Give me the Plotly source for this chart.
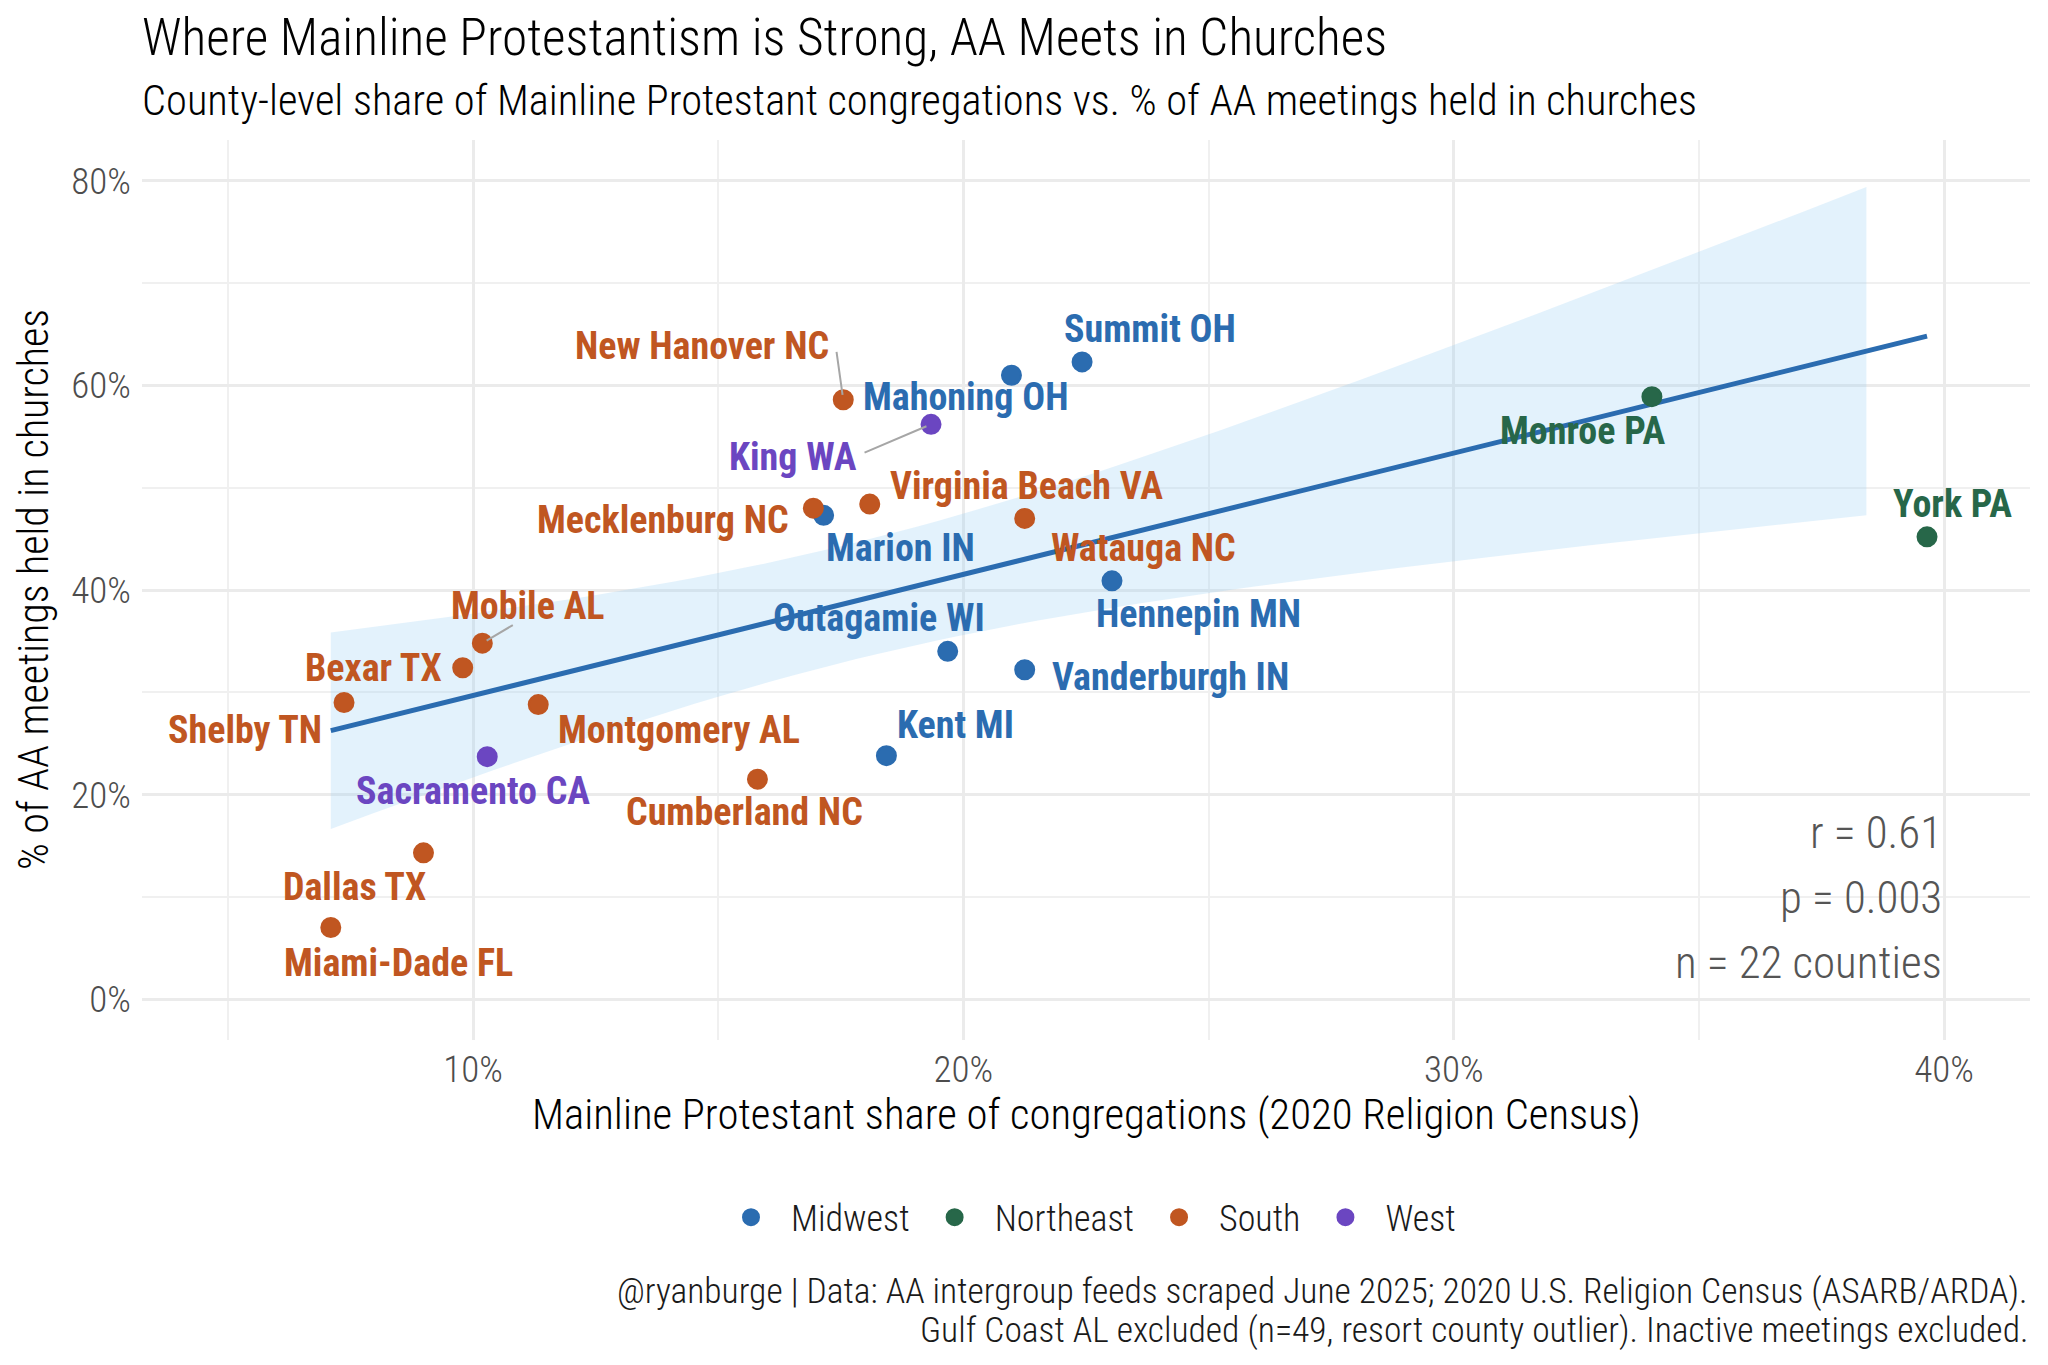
import numpy as np
import plotly.graph_objects as go

################################################################################
# Data (values in %)
################################################################################

counties = ['Summit OH', 'Mahoning OH', 'New Hanover NC', 'King WA', 'Mecklenburg NC',
            'Virginia Beach VA', 'Watauga NC', 'Marion IN', 'Hennepin MN', 'Outagamie WI',
            'Vanderburgh IN', 'Kent MI', 'Cumberland NC', 'Mobile AL', 'Bexar TX',
            'Shelby TN', 'Montgomery AL', 'Sacramento CA', 'Dallas TX', 'Miami-Dade FL',
            'Monroe PA', 'York PA']

regions = ['Midwest', 'Midwest', 'South', 'West', 'South',
           'South', 'South', 'Midwest', 'Midwest', 'Midwest',
           'Midwest', 'Midwest', 'South', 'South', 'South',
           'South', 'South', 'West', 'South', 'South',
           'Northeast', 'Northeast']

mainline_share = [22.42, 20.98, 17.55, 19.34, 16.94,
                  18.09, 21.25, 17.15, 23.03, 19.68,
                  21.25, 18.43, 15.80, 10.19, 9.79,
                  7.37, 11.33, 10.29, 8.99, 7.10,
                  34.04, 39.65]

church_pct = [62.3, 61.0, 58.6, 56.2, 48.0,
              48.4, 47.0, 47.3, 40.9, 34.0,
              32.2, 23.8, 21.5, 34.8, 32.4,
              29.0, 28.8, 23.7, 14.3, 7.0,
              58.9, 45.2]

stat_lines = ['r = 0.61', 'p = 0.003', 'n = 22 counties']

caption_lines = [
    '@ryanburge | Data: AA intergroup feeds scraped June 2025; 2020 U.S. Religion Census (ASARB/ARDA).',
    'Gulf Coast AL excluded (n=49, resort county outlier). Inactive meetings excluded.'
    ]

x_ticks = [10, 20, 30, 40]
y_ticks = [0, 20, 40, 60, 80]

################################################################################
# Styling
################################################################################

region_colors = {
    'Midwest': '#2B6CB0',
    'Northeast': '#276749',
    'South': '#C05621',
    'West': '#6B46C1'
    }

# label offsets in pixels from the point (dx right, dy up)
label_offsets = {
    'Summit OH': (68, 33),
    'Mahoning OH': (-46, -22),
    'New Hanover NC': (-141, 54),
    'King WA': (-138, -33),
    'Mecklenburg NC': (-150, -12),
    'Virginia Beach VA': (157, 18),
    'Watauga NC': (119, -30),
    'Marion IN': (77, -33),
    'Hennepin MN': (87, -33),
    'Outagamie WI': (-69, 33),
    'Vanderburgh IN': (146, -7),
    'Kent MI': (69, 31),
    'Cumberland NC': (-13, -33),
    'Mobile AL': (46, 37),
    'Bexar TX': (-89, 0),
    'Shelby TN': (-99, -27),
    'Montgomery AL': (141, -25),
    'Sacramento CA': (-14, -34),
    'Dallas TX': (-69, -34),
    'Miami-Dade FL': (68, -35),
    'Monroe PA': (-69, -34),
    'York PA': (25, 33)
    }

# leader segments: start of the segment in pixels from the point (ax, ay with y down)
segments = {
    'New Hanover NC': (-7, -50),
    'King WA': (-68, 29),
    'Mobile AL': (32, -19)
    }

FONT = 'Liberation Sans Narrow, Roboto Condensed, DejaVu Sans Condensed, sans-serif'

################################################################################
# Linear fit with 95% confidence band (like geom_smooth(method = "lm"))
################################################################################

x = np.array(mainline_share)
y = np.array(church_pct)
n = len(x)
slope, intercept = np.polyfit(x, y, 1)
resid = y - (intercept + slope * x)
s = np.sqrt(np.sum(resid ** 2) / (n - 2))
sxx = np.sum((x - x.mean()) ** 2)
t_crit = 2.086  # t(0.975, df = 20)

grid = np.linspace(x.min(), x.max(), 80)
fit = intercept + slope * grid
se = s * np.sqrt(1 / n + (grid - x.mean()) ** 2 / sxx)
upper = fit + t_crit * se
lower = fit - t_crit * se

# the y scale is limited to 0-80%, so the ribbon is cut where it leaves that range
keep = (upper <= 80) & (lower >= 0)
band_x = grid[keep]
band_up = upper[keep]
band_lo = lower[keep]

################################################################################
# Figure
################################################################################

fig = go.Figure()

fig.add_trace(go.Scatter(
    x=np.concatenate([band_x, band_x[::-1]]),
    y=np.concatenate([band_up, band_lo[::-1]]),
    fill='toself', fillcolor='rgba(144,205,244,0.25)',
    line=dict(width=0), hoverinfo='skip', showlegend=False
    ))

fig.add_trace(go.Scatter(
    x=grid, y=fit, mode='lines',
    line=dict(color='#2B6CB0', width=5),
    hoverinfo='skip', showlegend=False
    ))

for region in ['Midwest', 'Northeast', 'South', 'West']:
    idx = [i for i, r in enumerate(regions) if r == region]
    fig.add_trace(go.Scatter(
        x=[mainline_share[i] for i in idx],
        y=[church_pct[i] for i in idx],
        mode='markers', name=region,
        text=[counties[i] for i in idx],
        marker=dict(color=region_colors[region], size=19,
                    line=dict(color=region_colors[region], width=2))
        ))

# leader segments for the labels that sit away from their point
for i, county in enumerate(counties):
    if county in segments:
        ax, ay = segments[county]
        fig.add_annotation(
            x=mainline_share[i], y=church_pct[i], text=' ',
            showarrow=True, arrowhead=0, arrowwidth=2, arrowcolor='#A6A6A6',
            ax=ax, ay=ay, standoff=5, font=dict(size=1)
            )

# county labels
for i, county in enumerate(counties):
    dx, dy = label_offsets[county]
    fig.add_annotation(
        x=mainline_share[i], y=church_pct[i], text='<b>' + county + '</b>',
        showarrow=False, xshift=dx, yshift=dy,
        font=dict(family=FONT, size=38, color=region_colors[regions[i]])
        )

# stats box in the lower right
for k, line in enumerate(stat_lines[::-1]):
    fig.add_annotation(
        x=40, y=3.6, yshift=65 * k, text=line, showarrow=False,
        xanchor='right', yanchor='middle',
        font=dict(family=FONT, size=45, color='#555555', weight=300)
        )

# title and subtitle
fig.add_annotation(
    xref='paper', yref='paper', x=0, y=1, xanchor='left', yanchor='middle',
    xshift=-2, yshift=103,
    text='Where Mainline Protestantism is Strong, AA Meets in Churches', showarrow=False,
    font=dict(family=FONT, size=51.3, color='#000000', weight=300)
    )
fig.add_annotation(
    xref='paper', yref='paper', x=0, y=1, xanchor='left', yanchor='middle',
    xshift=-2, yshift=40,
    text='County-level share of Mainline Protestant congregations vs. % of AA meetings held in churches',
    showarrow=False, font=dict(family=FONT, size=42.5, color='#000000', weight=300)
    )

# axis titles
fig.add_annotation(
    xref='paper', yref='paper', x=0.5, y=0, xanchor='center', yanchor='middle', yshift=-74,
    text='Mainline Protestant share of congregations (2020 Religion Census)', showarrow=False,
    font=dict(family=FONT, size=42.8, color='#000000', weight=300)
    )
fig.add_annotation(
    xref='paper', yref='paper', x=0, y=0.5, xanchor='center', yanchor='middle', xshift=-109,
    text='% of AA meetings held in churches', textangle=-90, showarrow=False,
    font=dict(family=FONT, size=42, color='#000000', weight=300)
    )

# caption, right aligned under the panel
for k, line in enumerate(caption_lines):
    fig.add_annotation(
        xref='paper', yref='paper', x=1, y=0, xanchor='right', yanchor='middle',
        yshift=-251 - 39 * k, text=line, showarrow=False,
        font=dict(family=FONT, size=35.5, color='#1A1A1A', weight=300)
        )

fig.update_layout(
    width=2048, height=1365,
    margin=dict(l=142, r=18, t=140, b=325, autoexpand=False),
    plot_bgcolor='#ffffff', paper_bgcolor='#ffffff',
    font=dict(family=FONT, color='#1A1A1A'),
    legend=dict(
        orientation='h', x=0.5, xanchor='center', y=-0.197, yanchor='middle',
        font=dict(family=FONT, size=36, color='#1A1A1A', weight=300),
        itemsizing='trace', itemwidth=70
        ),
    xaxis=dict(
        range=[3.25, 41.75], tickvals=x_ticks, ticktext=[str(v) + '%' for v in x_ticks],
        showgrid=True, gridcolor='#EBEBEB', gridwidth=2.5, zeroline=False, automargin=False,
        minor=dict(dtick=5, tick0=0, showgrid=True, gridcolor='#F0F0F0', gridwidth=1.5),
        tickfont=dict(family=FONT, size=37, color='#4D4D4D', weight=300), ticklabelstandoff=4
        ),
    yaxis=dict(
        range=[-4, 84], tickvals=y_ticks, ticktext=[str(v) + '%' for v in y_ticks],
        showgrid=True, gridcolor='#EBEBEB', gridwidth=2.5, zeroline=False, automargin=False,
        minor=dict(dtick=10, tick0=0, showgrid=True, gridcolor='#F0F0F0', gridwidth=1.5),
        tickfont=dict(family=FONT, size=37, color='#4D4D4D', weight=300), ticklabelstandoff=10
        )
    )

# drop the browser's default page margin so the figure sits at the window corner
fig.write_html('out.html', config={'displayModeBar': False},
               post_script="document.body.style.margin = '0';")
